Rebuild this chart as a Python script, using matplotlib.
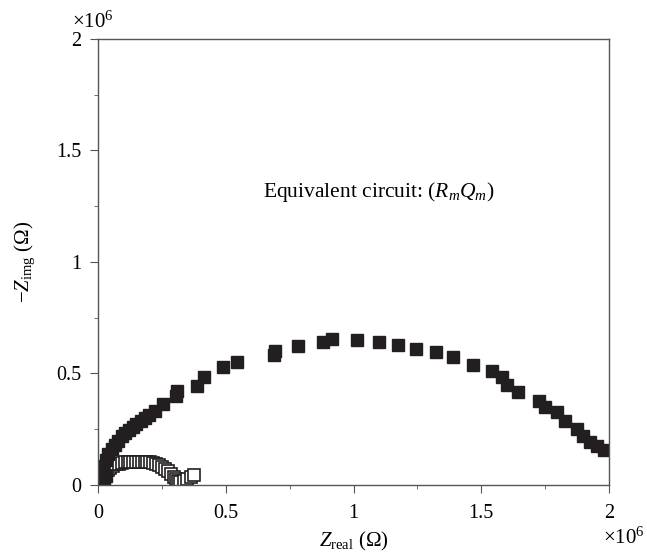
import matplotlib
matplotlib.use("Agg")
import matplotlib.pyplot as plt
from matplotlib.ticker import MultipleLocator, FormatStrFormatter

plt.rcParams["font.family"] = ["Liberation Serif", "DejaVu Serif"]
plt.rcParams["mathtext.fontset"] = "custom"
plt.rcParams["mathtext.rm"] = "Liberation Serif"
plt.rcParams["mathtext.it"] = "Liberation Serif:italic"

# 數值單位: x10^6 歐姆
filled_re = [0.025, 0.030, 0.014, 0.021, 0.031, 0.040, 0.053, 0.066, 0.080, 0.093,
             0.106, 0.120, 0.135, 0.150, 0.168, 0.185, 0.200, 0.223, 0.253, 0.305,
             0.308, 0.386, 0.415, 0.491, 0.543, 0.689, 0.693, 0.781, 0.882, 0.917,
             1.015, 1.100, 1.173, 1.243, 1.322, 1.391, 1.469, 1.543, 1.583, 1.602,
             1.645, 1.727, 1.750, 1.795, 1.828, 1.873, 1.900, 1.926, 1.952, 1.982]
filled_im = [0.020, 0.040, 0.056, 0.086, 0.111, 0.138, 0.162, 0.180, 0.198, 0.218,
             0.232, 0.247, 0.262, 0.272, 0.288, 0.302, 0.315, 0.333, 0.363, 0.401,
             0.423, 0.446, 0.486, 0.529, 0.551, 0.581, 0.601, 0.623, 0.641, 0.653,
             0.649, 0.641, 0.626, 0.611, 0.596, 0.574, 0.536, 0.511, 0.486, 0.450,
             0.416, 0.378, 0.351, 0.326, 0.285, 0.251, 0.221, 0.191, 0.176, 0.156]

open_re = [0.025, 0.030, 0.038, 0.048, 0.060, 0.072, 0.083, 0.094, 0.105, 0.116,
           0.127, 0.138, 0.149, 0.160, 0.171, 0.182, 0.193, 0.204, 0.215, 0.226,
           0.238, 0.250, 0.262, 0.274, 0.286, 0.296, 0.305, 0.312, 0.320, 0.335,
           0.350, 0.365, 0.375]
open_im = [0.040, 0.055, 0.068, 0.078, 0.086, 0.092, 0.096, 0.099, 0.101, 0.103,
           0.104, 0.105, 0.105, 0.105, 0.105, 0.104, 0.103, 0.101, 0.098, 0.094,
           0.089, 0.082, 0.073, 0.062, 0.050, 0.038, 0.026, 0.016, 0.012, 0.018,
           0.025, 0.035, 0.045]

fig = plt.figure(figsize=(6.47, 5.53), dpi=100)
ax = fig.add_axes([0.1515, 0.123, 0.7898, 0.8065])

ax.plot(open_re, open_im, linestyle="none", marker="s", markersize=8.5,
        markerfacecolor="white", markeredgecolor="#231f20", markeredgewidth=1.2)
ax.plot(filled_re, filled_im, linestyle="none", marker="s", markersize=9,
        markerfacecolor="#231f20", markeredgecolor="#231f20")

ax.set_xlim(0, 2)
ax.set_ylim(0, 2)
for axis in (ax.xaxis, ax.yaxis):
    axis.set_major_locator(MultipleLocator(0.5))
    axis.set_minor_locator(MultipleLocator(0.25))
    axis.set_major_formatter(FormatStrFormatter("%g"))

for s in ax.spines.values():
    s.set_color("#555555")
    s.set_linewidth(1.0)
ax.tick_params(which="both", direction="out", colors="#555555", labelcolor="black",
               labelsize=14.5, top=False, right=False)
ax.tick_params(axis="x", which="major", length=6, pad=8)
ax.tick_params(axis="y", which="major", length=6, pad=6)
ax.tick_params(which="minor", length=3)

ax.set_xlabel(r"$Z_{\mathrm{real}}$ ($\Omega$)", fontsize=15, labelpad=5)
ax.set_ylabel(r"$-Z_{\mathrm{img}}$ ($\Omega$)", fontsize=15, labelpad=14)

ax.text(0.645, 1.315, r"Equivalent circuit: $(R_mQ_m)$", fontsize=15.5, va="center")

fig.text(603 / 647, 1 - 538 / 553, r"$\times10^6$", fontsize=15, ha="left", va="center")
fig.text(72 / 647, 1 - 22 / 553, r"$\times10^6$", fontsize=15, ha="left", va="center")

fig.savefig("out.png", dpi=100)
